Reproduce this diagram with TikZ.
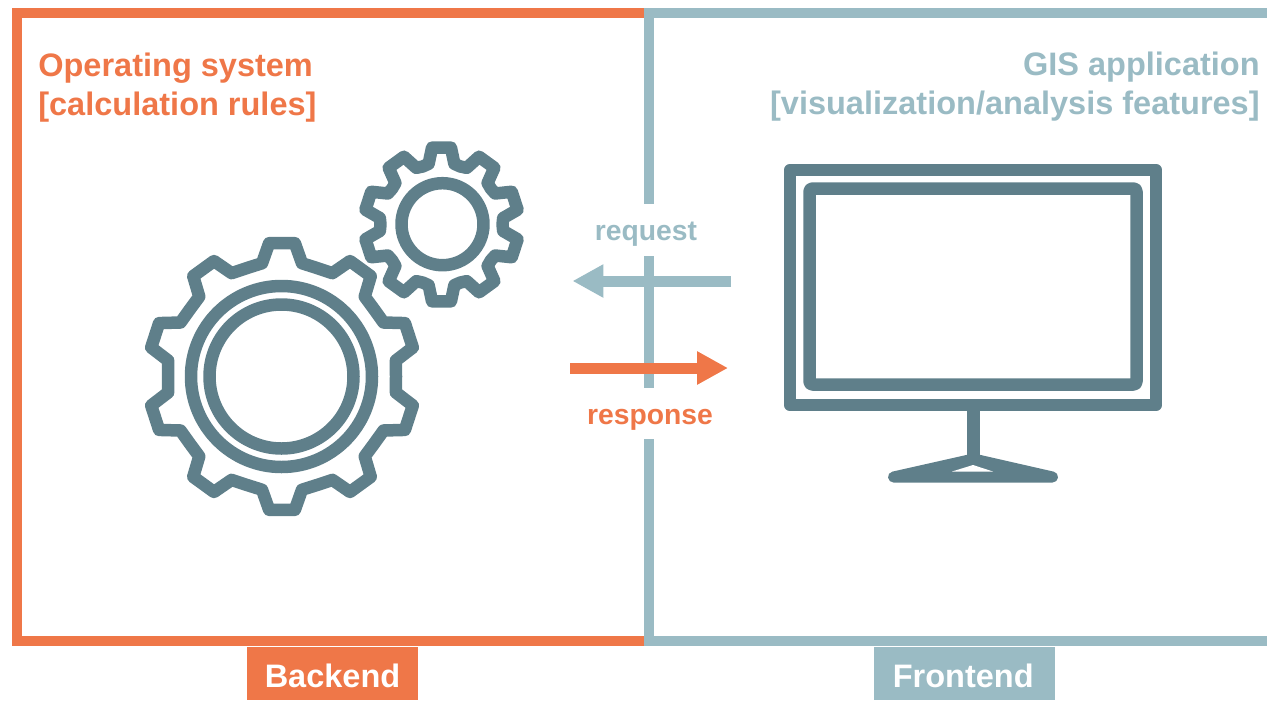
\documentclass[tikz,border=0pt]{standalone}
\usepackage{fontspec}
\setmainfont{Liberation Sans}
\usetikzlibrary{arrows.meta}
\definecolor{backendcol}{HTML}{EF7748}
\definecolor{frontendcol}{HTML}{9ABBC4}
\definecolor{iconcol}{HTML}{5F7F8A}
\tikzset{
    panelline/.style={line width=0.21cm},
    iconline/.style={draw=iconcol, line width=0.25cm, line join=round},
    titletext/.style={font=\fontsize{18.5}{22.1}\selectfont\bfseries, inner sep=0pt},
    arrowtext/.style={font=\fontsize{16.1}{19}\selectfont\bfseries, inner sep=0pt},
    tagbox/.style={font=\fontsize{18.5}{22}\selectfont\bfseries, text=white, inner sep=0pt, minimum height=1.06cm, text height=0.8cm, text depth=0.26cm},
    bigarrow/.style={line width=0.22cm},
}

\begin{document}
\begin{tikzpicture}[x=0.02cm, y=-0.02cm]
            \useasboundingbox (0,0) rectangle (1267,700);

            \draw[backendcol, panelline]  (644,13) -- (17,13) -- (17,641) -- (644,641);
            \draw[frontendcol, panelline]  (1267,13) -- (649,13) -- (649,204);
            \draw[frontendcol, panelline]  (649,256) -- (649,388);
            \draw[frontendcol, panelline]  (649,439) -- (649,641) -- (1267,641);

            \node[titletext, text=backendcol, anchor=west, align=left] (backendtitle) at (38,88) {Operating system\\{[calculation rules]}};
            \node[titletext, text=frontendcol, anchor=east, align=right] (frontendtitle) at (1260,87) {GIS application\\{[visualization/analysis features]}};

            % large gear
            \draw[iconline, shift={(282,376.5)}]
                (90-10:115) -- (90-5.5:134) -- (90+5.5:134) -- (90+10:115) -- (108:114) --
                (126-10:115) -- (126-5.5:134) -- (126+5.5:134) -- (126+10:115) -- (144:114) --
                (162-10:115) -- (162-5.5:134) -- (162+5.5:134) -- (162+10:115) -- (180:114) --
                (198-10:115) -- (198-5.5:134) -- (198+5.5:134) -- (198+10:115) -- (216:114) --
                (234-10:115) -- (234-5.5:134) -- (234+5.5:134) -- (234+10:115) -- (252:114) --
                (270-10:115) -- (270-5.5:134) -- (270+5.5:134) -- (270+10:115) -- (288:114) --
                (306-10:115) -- (306-5.5:134) -- (306+5.5:134) -- (306+10:115) -- (324:114) --
                (342-10:115) -- (342-5.5:134) -- (342+5.5:134) -- (342+10:115) -- (0:114) --
                (18-10:115) -- (18-5.5:134) -- (18+5.5:134) -- (18+10:115) -- (36:114) --
                (54-10:115) -- (54-5.5:134) -- (54+5.5:134) -- (54+10:115) -- (72:114) -- cycle;
            \draw[iconline] (281.5,376.5) circle (90.5);
            \draw[iconline] (281.5,376.5) circle (72);

            % small gear
            \draw[iconline, shift={(441.5,224.5)}]
                (90-12:62) -- (90-7:77.5) -- (90+7:77.5) -- (90+12:62) -- (108:61) --
                (126-12:62) -- (126-7:77.5) -- (126+7:77.5) -- (126+12:62) -- (144:61) --
                (162-12:62) -- (162-7:77.5) -- (162+7:77.5) -- (162+12:62) -- (180:61) --
                (198-12:62) -- (198-7:77.5) -- (198+7:77.5) -- (198+12:62) -- (216:61) --
                (234-12:62) -- (234-7:77.5) -- (234+7:77.5) -- (234+12:62) -- (252:61) --
                (270-12:62) -- (270-7:77.5) -- (270+7:77.5) -- (270+12:62) -- (288:61) --
                (306-12:62) -- (306-7:77.5) -- (306+7:77.5) -- (306+12:62) -- (324:61) --
                (342-12:62) -- (342-7:77.5) -- (342+7:77.5) -- (342+12:62) -- (0:61) --
                (18-12:62) -- (18-7:77.5) -- (18+7:77.5) -- (18+12:62) -- (36:61) --
                (54-12:62) -- (54-7:77.5) -- (54+7:77.5) -- (54+12:62) -- (72:61) -- cycle;
            \draw[iconline] (442.5,224.2) circle (41);

            % monitor
            \draw[iconline] (790,170) rectangle (1156,405);
            \draw[iconline, rounded corners=0.06cm] (809.5,188.5) rectangle (1136.5,384.5);
            \draw[iconline] (973.5,405) -- (973.5,459);
            \draw[iconline, fill=iconcol, line width=0.22cm] (893.5,477) -- (973.5,459) -- (1052.5,477) -- cycle;
            \fill[white] (952,471.5) -- (973,465) -- (993,471.5) -- cycle;

            % request and response
            \coordinate (requeststart) at (731,281);
            \coordinate (requestend) at (572.5,281);
            \coordinate (responsestart) at (570,368);
            \coordinate (responseend) at (728,368);
            \draw[frontendcol, bigarrow, -{Triangle[length=17.6pt, width=17.8pt]}] (requeststart) -- (requestend);
            \draw[backendcol, bigarrow, -{Triangle[length=17.6pt, width=17.8pt]}] (responsestart) -- (responseend);
            \node[arrowtext, text=frontendcol] (requestlabel) at (646,234) {request};
            \node[arrowtext, text=backendcol] (responselabel) at (650,419.5) {response};

            \node[tagbox, fill=backendcol, minimum width=3.42cm] (backendtag) at (332.5,673.5) {Backend};
            \node[tagbox, fill=frontendcol, minimum width=3.62cm] (frontendtag) at (964.5,673.5) {\hspace*{-0.05cm}Frontend};
\end{tikzpicture}
\end{document}
